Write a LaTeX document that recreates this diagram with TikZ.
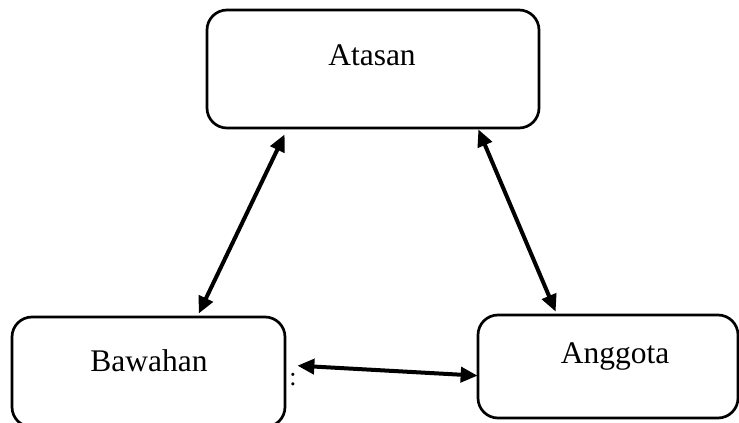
\documentclass[tikz,border=0pt]{standalone}
\usepackage{fontspec}
\setmainfont{Liberation Serif}
\usetikzlibrary{arrows.meta,positioning}

\begin{document}
\begin{tikzpicture}[x=1pt,y=-1pt,
    kotak/.style={draw,line width=2.7pt,rounded corners=20pt,inner sep=0pt},
    teks/.style={font=\fontsize{31.5}{36}\selectfont,inner sep=0pt},
    panah/.style={{Triangle[length=17pt,width=15pt]}-{Triangle[length=17pt,width=15pt]},line width=4pt}]
    \useasboundingbox (0,0) rectangle (739,423);
    \node[kotak,minimum width=332pt,minimum height=118pt] (atasan) at (373,69) {};
    \node[kotak,minimum width=273pt,minimum height=110pt] (bawahan) at (148.5,372) {};
    \node[kotak,minimum width=260pt,minimum height=103pt] (anggota) at (608,366.5) {};
    \node[teks] (tAtasan) at (372,55) {Atasan};
    \node[teks] (tBawahan) at (149,361) {Bawahan};
    \node[teks] (tAnggota) at (615,356) {Anggota};
    \node[font=\fontsize{26}{30}\selectfont,inner sep=0pt] (titik) at (293,380) {:};
    \draw[panah] ([xshift=79pt,yshift=-5pt]atasan.south west) -- ([xshift=188pt,yshift=2pt]bawahan.north west);
    \draw[panah] ([xshift=-62pt]atasan.south east) -- ([xshift=79pt,yshift=2pt]anggota.north west);
    \draw[panah] ([xshift=11pt,yshift=-50pt]bawahan.north east) -- ([xshift=1pt,yshift=-62pt]anggota.north west);
\end{tikzpicture}
\end{document}
